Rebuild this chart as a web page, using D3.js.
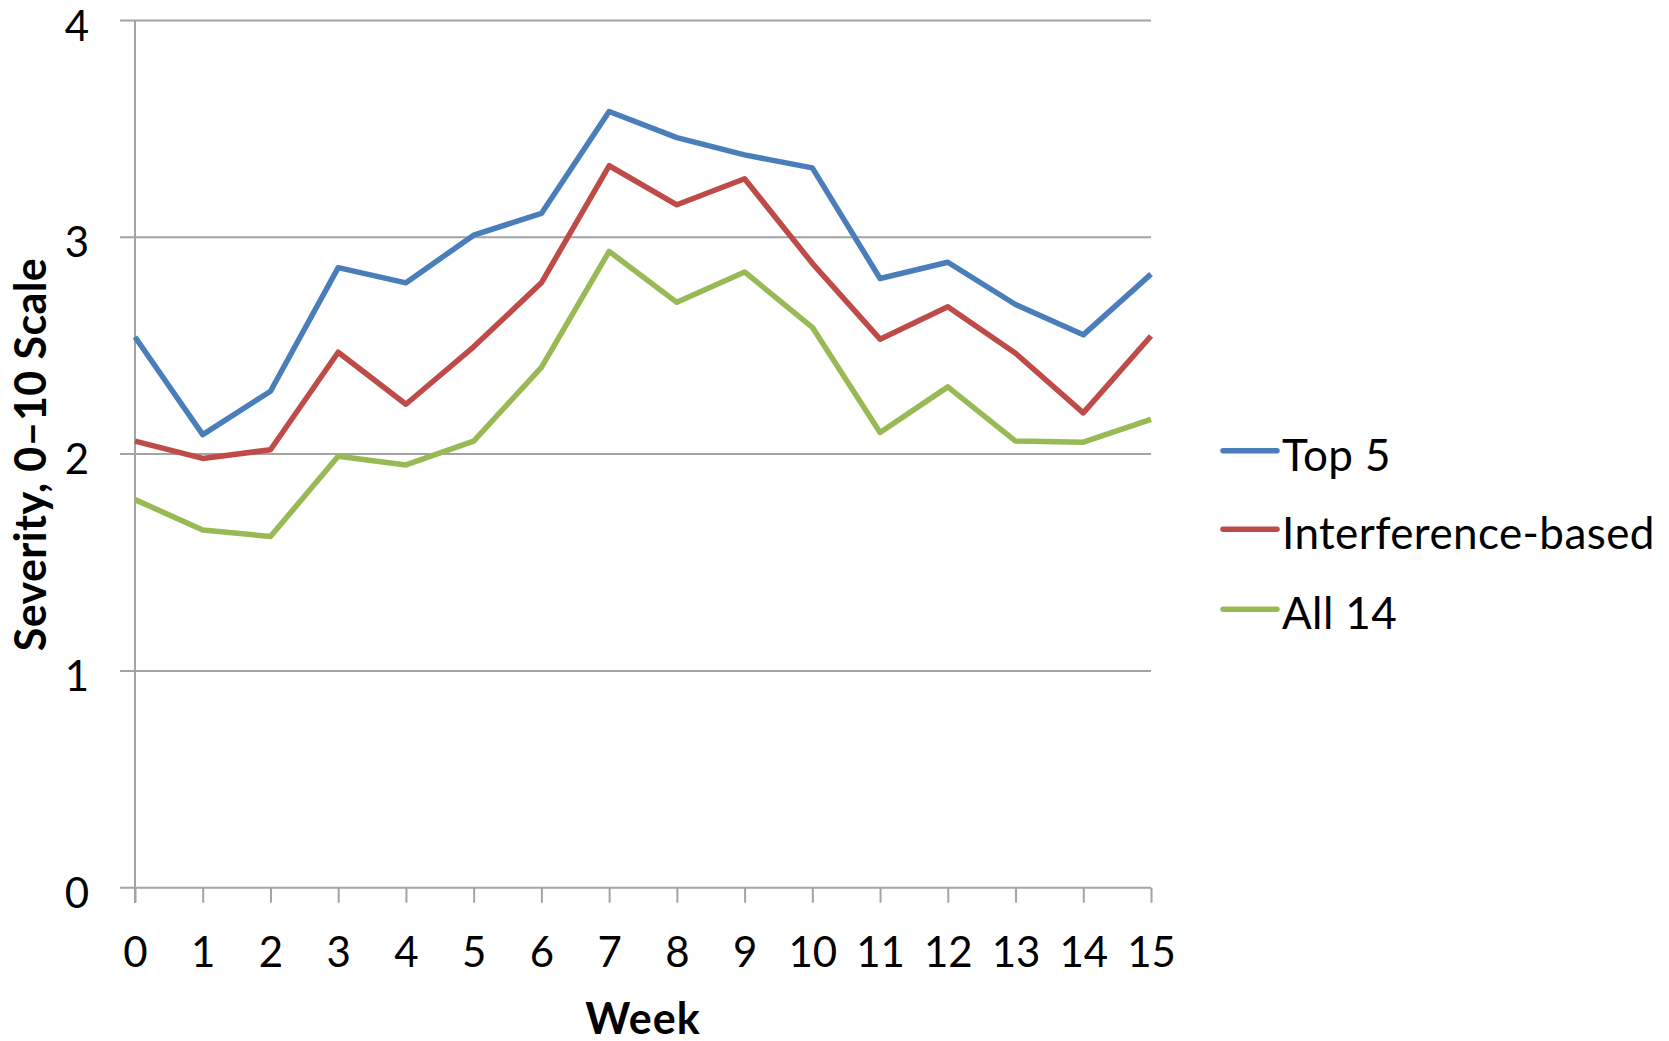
<!DOCTYPE html>
<html>
<head>
<meta charset="utf-8">
<script src="https://cdn.jsdelivr.net/npm/d3@7"></script>
<style>
  html, body { margin: 0; padding: 0; background: #ffffff; }
  svg { display: block; }
  text { font-family: Lato, "Open Sans", "Noto Sans", sans-serif; fill: #000; }
</style>
</head>
<body>
<svg id="chart" width="1669" height="1041"></svg>
<script>
const weeks = [0,1,2,3,4,5,6,7,8,9,10,11,12,13,14,15];
const top5 = [2.54,2.09,2.29,2.86,2.79,3.01,3.11,3.58,3.46,3.38,3.32,2.81,2.885,2.69,2.55,2.83];
const interference = [2.06,1.98,2.02,2.47,2.23,2.495,2.79,3.33,3.15,3.27,2.88,2.53,2.68,2.465,2.19,2.545];
const all14 = [1.79,1.65,1.62,1.99,1.95,2.06,2.40,2.935,2.70,2.84,2.585,2.10,2.31,2.06,2.055,2.16];
const yTicks = [0,1,2,3,4];
const seriesNames = ["Top 5","Interference-based","All 14"];
const seriesColors = ["#4A7EBB","#BE4B48","#98B954"];
const seriesValues = [top5, interference, all14];

const svg = d3.select("#chart");
const x = d3.scaleLinear().domain([0,15]).range([135,1151]);
const y = d3.scaleLinear().domain([0,4]).range([887.7,20.5]);
const gridColor = "#a3a3a3";

// gridlines + y ticks (extend left 15px)
svg.append("g").selectAll("line").data(yTicks.filter(d=>d>0)).join("line")
  .attr("x1",120).attr("x2",1151)
  .attr("y1",d=>y(d)).attr("y2",d=>y(d))
  .attr("stroke",gridColor).attr("stroke-width",2);

// x axis
const xAxis = d3.axisBottom(x).tickValues(weeks).tickSize(15).tickFormat(d3.format("d"));
const gx = svg.append("g").attr("transform",`translate(0,${y(0)})`).call(xAxis);
gx.select(".domain").attr("stroke",gridColor).attr("stroke-width",2).attr("d",`M120,0H1151`);
gx.selectAll(".tick line").attr("stroke",gridColor).attr("stroke-width",2);
gx.selectAll(".tick text").attr("font-size",42).attr("y",79).attr("dy",null)
  .style("font-family","Lato, sans-serif").attr("fill","#000");

// y axis line
svg.append("line").attr("x1",x(0)).attr("x2",x(0)).attr("y1",y(4)).attr("y2",y(0)+15)
  .attr("stroke",gridColor).attr("stroke-width",2);
// y tick labels
svg.append("g").selectAll("text").data(yTicks).join("text")
  .attr("x",89).attr("y",d=>y(d)+20).attr("text-anchor","end")
  .attr("font-size",42).text(d=>d);

// lines
const line = d3.line().x((d,i)=>x(weeks[i])).y(d=>y(d));
svg.append("g").selectAll("path").data(seriesValues).join("path")
  .attr("d",line).attr("fill","none")
  .attr("stroke",(d,i)=>seriesColors[i]).attr("stroke-width",5.5)
  .attr("stroke-linejoin","round").attr("stroke-linecap","butt");

// axis titles
svg.append("text").attr("transform","translate(46,454.5) rotate(-90)")
  .attr("text-anchor","middle").attr("font-size",43).attr("font-weight","bold")
  .attr("letter-spacing",0.4)
  .text("Severity, 0\u201310 Scale");
svg.append("text").attr("x",643).attr("y",1034).attr("text-anchor","middle")
  .attr("font-size",43).attr("font-weight","bold").attr("letter-spacing",1).text("Week");

// legend
const legY = [450.7,529.3,609.3];
const leg = svg.append("g").selectAll("g").data(seriesNames).join("g")
  .attr("transform",(d,i)=>`translate(0,${legY[i]})`);
leg.append("line").attr("x1",1223).attr("x2",1277).attr("y1",0).attr("y2",0)
  .attr("stroke",(d,i)=>seriesColors[i]).attr("stroke-width",5.5).attr("stroke-linecap","round");
leg.append("text").attr("x",1282).attr("y",20).attr("font-size",44)
  .attr("letter-spacing",0.4).text(d=>d);
</script>
</body>
</html>
